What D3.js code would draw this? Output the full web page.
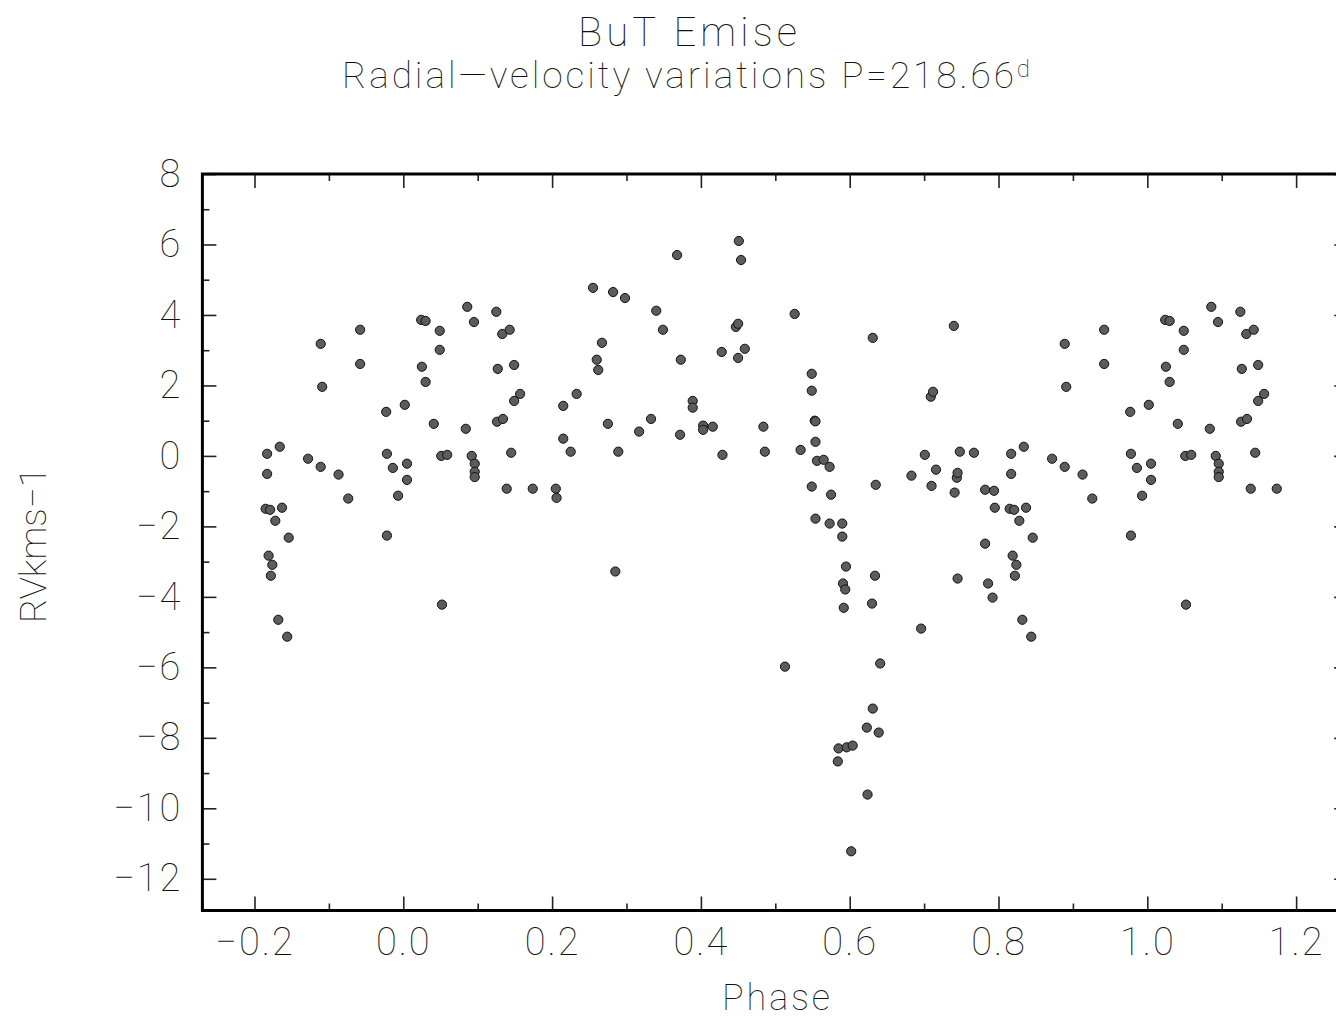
<!DOCTYPE html>
<html>
<head>
<meta charset="utf-8">
<script src="https://cdn.jsdelivr.net/npm/d3@7"></script>
<style>
  body { margin: 0; background: #fff; }
  text { font-family: Roboto, "DejaVu Sans", sans-serif; font-weight: 100; fill: #111; }
</style>
</head>
<body>
<svg id="chart" width="1336" height="1020"></svg>
<script>
// Radial-velocity measurements of BuT Emise, folded on P = 218.66 d
const phase = [
  0.002, 0.005, 0.005, 0.024, 0.025, 0.030, 0.030, 0.041, 0.049, 0.049,
  0.051, 0.052, 0.059, 0.084, 0.086, 0.092, 0.095, 0.096, 0.096, 0.096,
  0.125, 0.126, 0.127, 0.133, 0.134, 0.139, 0.143, 0.145, 0.149, 0.149,
  0.157, 0.174, 0.205, 0.206, 0.215, 0.215, 0.225, 0.233, 0.255, 0.260,
  0.262, 0.267, 0.275, 0.282, 0.285, 0.289, 0.298, 0.317, 0.333, 0.340,
  0.349, 0.368, 0.372, 0.373, 0.389, 0.389, 0.403, 0.403, 0.416, 0.428,
  0.429, 0.447, 0.450, 0.450, 0.451, 0.454, 0.459, 0.484, 0.486, 0.513,
  0.526, 0.534, 0.549, 0.549, 0.549, 0.553, 0.554, 0.554, 0.554, 0.556,
  0.565, 0.573, 0.573, 0.575, 0.584, 0.585, 0.590, 0.590, 0.591, 0.592,
  0.594, 0.595, 0.596, 0.602, 0.604, 0.623, 0.624, 0.630, 0.631, 0.631,
  0.634, 0.635, 0.639, 0.641, 0.683, 0.696, 0.701, 0.709, 0.710, 0.712,
  0.716, 0.740, 0.741, 0.744, 0.745, 0.745, 0.748, 0.767, 0.782, 0.782,
  0.786, 0.792, 0.794, 0.795, 0.815, 0.817, 0.817, 0.819, 0.821, 0.822,
  0.824, 0.828, 0.832, 0.834, 0.837, 0.844, 0.846, 0.872, 0.889, 0.889,
  0.891, 0.913, 0.926, 0.942, 0.942, 0.977, 0.978, 0.978, 0.986, 0.993
];
const rv = [
  1.45, -0.22, -0.68, 3.86, 2.53, 3.83, 2.10, 0.91, 3.55, 3.01,
  0.00, -4.22, 0.03, 0.77, 4.23, 0.00, 3.80, -0.22, -0.45, -0.60,
  4.09, 0.97, 2.47, 3.46, 1.05, -0.93, 3.58, 0.09, 2.58, 1.56,
  1.76, -0.93, -0.93, -1.19, 1.42, 0.49, 0.12, 1.76, 4.77, 2.73,
  2.44, 3.21, 0.91, 4.65, -3.28, 0.12, 4.48, 0.69, 1.05, 4.12,
  3.58, 5.70, 0.60, 2.73, 1.56, 1.37, 0.86, 0.74, 0.83, 2.95,
  0.03, 3.66, 3.75, 2.78, 6.10, 5.56, 3.04, 0.83, 0.12, -5.98,
  4.03, 0.17, 2.33, 1.85, -0.87, 1.00, 0.98, 0.40, -1.78, -0.14,
  -0.11, -0.31, -1.92, -1.10, -8.67, -8.30, -1.92, -2.29, -3.62, -4.31,
  -3.79, -3.14, -8.27, -11.22, -8.22, -7.71, -9.61, -4.19, -7.17, 3.35,
  -3.40, -0.82, -7.85, -5.89, -0.56, -4.90, 0.03, 1.68, -0.85, 1.82,
  -0.39, 3.69, -1.04, -0.62, -0.48, -3.48, 0.12, 0.09, -0.96, -2.49,
  -3.62, -4.02, -0.99, -1.47, -1.50, 0.06, -0.51, -2.83, -1.53, -3.40,
  -3.09, -1.84, -4.65, 0.26, -1.47, -5.13, -2.32, -0.08, 3.18, -0.31,
  1.96, -0.53, -1.21, 3.58, 2.61, 1.25, 0.06, -2.26, -0.34, -1.13
];

// Ends of the cycle that are repeated on either side of [0, 1)
const wrapLow = 0.2;   // phases below this are also drawn at phase + 1
const wrapHigh = 0.8;  // phases at or above this are also drawn at phase - 1

const titleText = "BuT Emise";
const subtitleText = "Radial\u2014velocity variations P=218.66";
const subtitleSup = "d";
const xLabel = "Phase";
const yLabel = "RVkms\u22121";

const xMajor = [-0.2, 0.0, 0.2, 0.4, 0.6, 0.8, 1.0, 1.2];
const xMinor = [-0.1, 0.1, 0.3, 0.5, 0.7, 0.9, 1.1];
const yMajor = [-12, -10, -8, -6, -4, -2, 0, 2, 4, 6, 8];
const yMinor = [-11, -9, -7, -5, -3, -1, 1, 3, 5, 7];

const svg = d3.select("#chart");

const x = d3.scaleLinear().domain([-0.27, 1.27]).range([202.4, 1348.2]);
const y = d3.scaleLinear().domain([-12.9, 8]).range([910.5, 174]);

// folded point set
const points = [];
phase.forEach((p, i) => {
  points.push({ p: p, v: rv[i] });
  if (p < wrapLow) points.push({ p: p + 1, v: rv[i] });
  if (p >= wrapHigh) points.push({ p: p - 1, v: rv[i] });
});

const fmtX = d3.format(".1f");
const fmtY = d3.format("d");

function styleAxis(g) {
  g.select(".domain").remove();
  g.selectAll(".tick line").attr("stroke", "#222").attr("stroke-width", 1.6);
  g.selectAll(".tick text")
    .attr("fill", "#111")
    .style("font-size", "38px")
    .style("letter-spacing", "2px");
}

const [x0, x1] = x.range();
const [yb, yt] = y.range();

// bottom axis
svg.append("g").attr("transform", `translate(0,${yb})`)
  .call(d3.axisBottom(x).tickValues(xMajor).tickSize(-14).tickPadding(18)
    .tickFormat(d => fmtX(Math.abs(d) < 1e-9 ? 0 : d)))
  .call(styleAxis)
  .call(g => g.selectAll(".tick text").attr("dy", "0.71em"));
svg.append("g").attr("transform", `translate(0,${yb})`)
  .call(d3.axisBottom(x).tickValues(xMinor).tickSize(-7).tickFormat(""))
  .call(styleAxis);

// top axis
svg.append("g").attr("transform", `translate(0,${yt})`)
  .call(d3.axisTop(x).tickValues(xMajor).tickSize(-14).tickFormat(""))
  .call(styleAxis);
svg.append("g").attr("transform", `translate(0,${yt})`)
  .call(d3.axisTop(x).tickValues(xMinor).tickSize(-7).tickFormat(""))
  .call(styleAxis);

// left axis
svg.append("g").attr("transform", `translate(${x0},0)`)
  .call(d3.axisLeft(y).tickValues(yMajor).tickSize(-14).tickPadding(20).tickFormat(fmtY))
  .call(styleAxis);
svg.append("g").attr("transform", `translate(${x0},0)`)
  .call(d3.axisLeft(y).tickValues(yMinor).tickSize(-7).tickFormat(""))
  .call(styleAxis);

// right axis
svg.append("g").attr("transform", `translate(${x1},0)`)
  .call(d3.axisRight(y).tickValues(yMajor).tickSize(-14).tickFormat(""))
  .call(styleAxis);
svg.append("g").attr("transform", `translate(${x1},0)`)
  .call(d3.axisRight(y).tickValues(yMinor).tickSize(-7).tickFormat(""))
  .call(styleAxis);

// frame
svg.append("rect")
  .attr("x", x0).attr("y", yt)
  .attr("width", x1 - x0).attr("height", yb - yt)
  .attr("fill", "none").attr("stroke", "#000").attr("stroke-width", 3);

// data points
svg.append("g").selectAll("circle")
  .data(points)
  .join("circle")
  .attr("cx", d => x(d.p))
  .attr("cy", d => y(d.v))
  .attr("r", 4.6)
  .attr("fill", "#5c5c5c")
  .attr("stroke", "#111")
  .attr("stroke-width", 1);

// titles
svg.append("text")
  .attr("x", 687.5).attr("y", 46)
  .attr("text-anchor", "middle")
  .attr("textLength", 219).attr("lengthAdjust", "spacing")
  .style("font-size", "40px")
  .text(titleText);

const sub = svg.append("text")
  .attr("x", 686).attr("y", 88)
  .attr("text-anchor", "middle")
  .attr("textLength", 688).attr("lengthAdjust", "spacing")
  .style("font-size", "37px");
sub.append("tspan").text(subtitleText);
sub.append("tspan").attr("dy", -11).style("font-size", "24px").text(subtitleSup);

// axis titles
svg.append("text")
  .attr("x", 776).attr("y", 1010)
  .attr("text-anchor", "middle")
  .attr("textLength", 108).attr("lengthAdjust", "spacing")
  .style("font-size", "36px")
  .text(xLabel);

svg.append("text")
  .attr("transform", "translate(46,545) rotate(-90)")
  .attr("text-anchor", "middle")
  .attr("textLength", 156).attr("lengthAdjust", "spacing")
  .style("font-size", "37px")
  .text(yLabel);
</script>
</body>
</html>
